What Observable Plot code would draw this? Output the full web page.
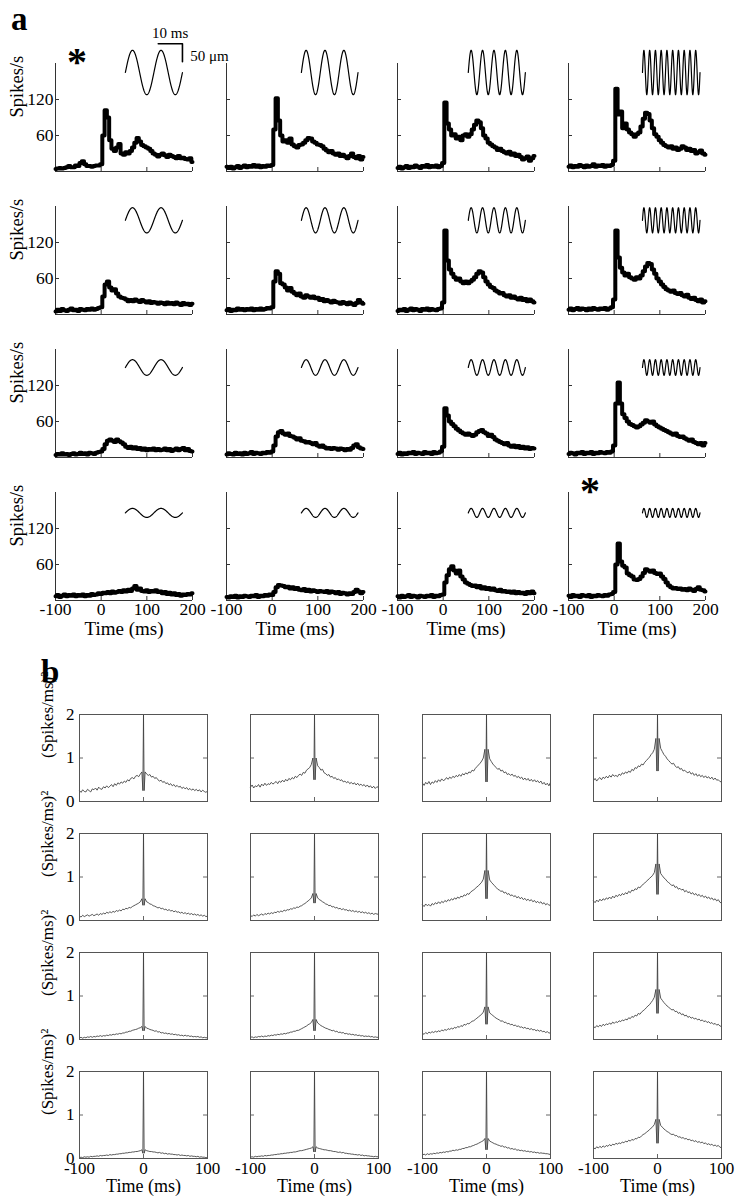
<!DOCTYPE html>
<html><head><meta charset="utf-8">
<script src="https://cdn.jsdelivr.net/npm/d3@7"></script>
<script src="https://cdn.jsdelivr.net/npm/@observablehq/plot@0.6"></script>
<style>
body{margin:0;background:#fff;}
#fig{position:relative;width:740px;height:1200px;overflow:hidden;background:#fff;}
#fig svg{position:absolute;}
</style></head><body><div id="fig"></div>
<script>
// ---------- DATA ----------
// Panel a: PSTH time bins (ms)
const psthTime = [-100,-95,-90,-85,-80,-75,-70,-65,-60,-55,-50,-45,-40,-35,-30,-25,-20,-15,-10,-5,0,5,10,15,20,25,30,35,40,45,50,55,60,65,70,75,80,85,90,95,100,105,110,115,120,125,130,135,140,145,150,155,160,165,170,175,180,185,190,195,200];
// firing rates (spikes/s), row = stimulus amplitude, column = stimulus frequency
const psthRow1 = [
 [4,5,6,5,6,7,9,7,7,10,9,14,17,12,9,9,8,9,10,10,12,60,102,90,52,38,34,40,46,30,28,32,30,34,40,48,56,50,44,42,40,38,34,30,28,25,28,30,27,24,28,26,24,22,26,22,23,21,20,22,16],
 [8,6,8,5,7,9,6,8,10,7,9,8,11,8,10,7,9,8,10,9,11,70,122,85,60,50,52,48,55,45,42,40,44,45,48,52,56,55,50,48,45,44,42,38,35,32,34,30,28,30,26,28,25,22,26,30,24,22,26,20,24],
 [6,8,5,7,9,6,8,7,10,8,6,9,8,11,7,9,8,10,7,9,14,115,80,70,60,62,55,58,52,60,62,58,62,70,78,85,82,72,60,55,48,45,42,40,36,38,34,32,30,33,28,30,26,28,24,20,22,25,18,22,26],
 [8,10,7,9,8,11,9,7,10,8,9,12,8,10,9,11,8,10,9,11,18,138,95,100,72,80,70,65,62,58,62,65,75,88,98,96,85,72,62,58,52,48,44,42,40,42,38,40,36,38,42,40,36,38,34,36,30,32,35,30,28]
];
const psthRow2 = [
 [5,8,6,9,7,6,8,10,7,8,6,9,8,7,9,8,10,8,9,11,12,30,50,55,45,40,42,35,30,28,27,25,22,24,22,25,23,21,24,22,20,22,19,21,20,18,20,19,17,20,18,19,17,20,18,16,19,17,18,16,18],
 [7,9,6,8,7,10,8,9,7,9,8,10,7,9,8,10,8,9,11,10,12,55,72,68,52,50,45,40,44,38,35,32,35,30,28,32,30,28,30,27,28,24,26,22,24,22,20,23,21,20,18,21,19,17,20,18,16,19,24,20,18],
 [6,8,7,9,6,8,10,7,9,8,6,9,8,10,7,9,8,7,9,10,20,140,90,75,68,62,58,60,55,52,55,52,55,58,62,68,72,70,62,55,50,46,44,40,38,35,36,32,30,32,28,30,27,25,28,24,26,22,25,22,20],
 [8,10,7,9,11,8,10,9,7,10,8,11,9,8,10,9,11,8,10,12,25,140,95,78,70,65,68,62,60,58,62,60,65,72,80,86,84,75,68,60,55,50,46,42,40,38,40,36,34,36,32,30,33,28,26,28,24,22,25,20,22]
];
const psthRow3 = [
 [4,6,5,7,5,6,4,6,7,5,6,8,6,7,5,8,7,6,8,9,10,14,22,28,30,28,26,30,27,25,22,18,16,18,15,17,14,16,13,15,12,14,13,15,12,14,12,13,15,12,14,11,13,15,12,14,16,12,14,11,10],
 [5,7,6,5,8,6,7,5,8,6,7,9,6,8,7,6,8,7,9,8,10,20,35,42,44,40,38,40,36,35,33,30,32,28,27,25,26,24,22,24,20,18,20,17,15,16,14,16,15,13,15,14,12,14,13,16,20,22,17,15,14],
 [6,8,5,7,6,8,7,9,6,8,7,6,9,7,8,6,9,7,8,10,18,82,70,60,56,52,48,45,42,40,38,40,38,36,38,42,44,46,42,40,36,38,34,30,28,26,24,22,24,20,18,20,17,19,16,18,15,17,14,16,15],
 [6,8,7,5,8,7,9,6,8,7,9,6,8,7,9,8,7,9,8,10,20,90,125,90,72,66,60,56,54,52,50,52,55,58,62,60,58,60,55,52,50,48,46,44,42,40,38,40,36,34,35,32,30,28,30,26,24,22,24,20,24]
];
const psthRow4 = [
 [7,9,6,8,10,7,9,8,10,7,9,8,10,7,9,8,11,9,10,12,11,13,12,14,12,15,13,14,16,14,17,15,18,16,20,24,18,20,16,15,17,14,16,15,17,14,15,12,14,11,13,10,12,9,11,8,10,9,11,10,12],
 [6,5,7,6,8,5,7,6,8,7,6,8,7,9,6,8,7,9,8,10,9,14,22,26,25,24,22,23,20,22,19,21,18,17,19,16,18,15,17,16,14,16,15,14,16,13,15,14,12,14,11,13,12,10,12,11,14,18,15,12,14],
 [7,5,8,6,7,9,6,8,7,5,8,7,6,8,7,9,6,8,7,9,10,30,42,52,57,50,45,50,40,35,30,28,26,24,25,22,24,20,22,19,21,18,20,17,16,18,15,16,14,15,13,15,12,14,12,13,11,14,12,15,12],
 [8,6,9,7,8,6,9,8,7,9,6,8,7,9,8,7,9,8,10,11,14,60,95,65,58,55,45,42,40,35,34,36,40,46,52,50,48,50,46,44,45,40,36,30,25,22,20,21,19,20,18,19,17,20,18,16,19,22,18,17,15]
];
const psthRows = [psthRow1, psthRow2, psthRow3, psthRow4];
const psthXTicks = [-100, 0, 100, 200];
const psthYTicks = [60, 120];
// stimulus glyphs: cycles per column, centre/amplitude per row (panel y units)
const stimCycles = [2, 3, 5, 10];
const stimStart = [53, 64, 55, 62];
const stimEnd = [178, 188, 180, 188];
const stimMid = [165, 157, 150, 146];
const stimAmp = [37, 21, 13, 7.5];
const asteriskPanels = [[0, 0], [3, 3]];

// Panel b: autocorrelogram lags (ms): 2.5 ms bins, plus -1, 0, +1 around zero lag
const acgTime = [...d3.range(-100, 0, 2.5), -1, 0, 1, ...d3.range(2.5, 100.01, 2.5)];
const acgRow1 = [
 [0.25,0.21,0.27,0.23,0.22,0.28,0.25,0.22,0.29,0.27,0.31,0.26,0.33,0.29,0.28,0.34,0.31,0.36,0.32,0.35,0.39,0.34,0.41,0.37,0.43,0.4,0.45,0.42,0.47,0.44,0.5,0.47,0.53,0.55,0.52,0.58,0.6,0.57,0.63,0.68,
  0.25,2,0.25,
  0.68,0.63,0.6,0.62,0.56,0.58,0.53,0.55,0.5,0.47,0.49,0.44,0.46,0.41,0.43,0.38,0.41,0.36,0.39,0.34,0.37,0.33,0.35,0.3,0.33,0.29,0.32,0.27,0.3,0.26,0.29,0.25,0.28,0.24,0.27,0.22,0.26,0.23,0.21,0.24],
 [0.33,0.38,0.31,0.36,0.34,0.39,0.33,0.4,0.36,0.42,0.37,0.41,0.39,0.44,0.4,0.43,0.46,0.41,0.47,0.44,0.49,0.45,0.51,0.47,0.53,0.5,0.55,0.52,0.58,0.55,0.6,0.63,0.6,0.67,0.65,0.72,0.75,0.78,0.85,1.0,
  0.5,2,0.5,
  1.0,0.82,0.78,0.72,0.74,0.66,0.64,0.6,0.62,0.56,0.58,0.53,0.55,0.5,0.52,0.48,0.5,0.45,0.47,0.43,0.46,0.41,0.44,0.4,0.43,0.38,0.42,0.37,0.4,0.36,0.39,0.34,0.38,0.33,0.36,0.31,0.35,0.3,0.34,0.32],
 [0.42,0.37,0.44,0.4,0.46,0.39,0.45,0.42,0.48,0.44,0.5,0.46,0.52,0.48,0.5,0.55,0.51,0.56,0.53,0.58,0.55,0.6,0.57,0.62,0.58,0.64,0.61,0.66,0.63,0.68,0.66,0.72,0.7,0.76,0.8,0.84,0.88,0.93,1.0,1.2,
  0.45,2,0.45,
  1.2,0.98,0.92,0.86,0.82,0.78,0.74,0.76,0.7,0.72,0.66,0.68,0.62,0.64,0.6,0.63,0.58,0.6,0.55,0.58,0.53,0.56,0.5,0.54,0.49,0.53,0.47,0.51,0.46,0.5,0.45,0.48,0.43,0.47,0.4,0.44,0.38,0.42,0.36,0.44],
 [0.48,0.53,0.47,0.52,0.55,0.5,0.56,0.53,0.58,0.54,0.6,0.56,0.62,0.58,0.6,0.57,0.63,0.6,0.66,0.63,0.68,0.65,0.7,0.67,0.74,0.71,0.78,0.76,0.82,0.8,0.86,0.84,0.9,0.94,0.98,1.02,1.08,1.12,1.2,1.45,
  0.7,2,0.7,
  1.45,1.22,1.15,1.08,1.04,0.98,0.94,0.9,0.86,0.88,0.82,0.78,0.8,0.74,0.76,0.7,0.72,0.68,0.66,0.69,0.63,0.66,0.6,0.64,0.58,0.62,0.57,0.6,0.55,0.59,0.54,0.57,0.52,0.56,0.5,0.54,0.49,0.5,0.46,0.45]
];
const acgRow2 = [
 [0.1,0.08,0.12,0.09,0.11,0.13,0.1,0.12,0.14,0.11,0.13,0.15,0.12,0.16,0.14,0.17,0.15,0.19,0.17,0.2,0.18,0.21,0.19,0.23,0.21,0.24,0.22,0.26,0.25,0.28,0.27,0.3,0.29,0.32,0.34,0.36,0.38,0.4,0.43,0.5,
  0.35,2,0.35,
  0.5,0.43,0.41,0.38,0.37,0.34,0.33,0.31,0.29,0.3,0.27,0.28,0.25,0.26,0.23,0.25,0.22,0.23,0.2,0.22,0.19,0.2,0.17,0.19,0.16,0.18,0.15,0.17,0.14,0.16,0.13,0.15,0.12,0.14,0.11,0.13,0.1,0.12,0.09,0.1],
 [0.12,0.09,0.13,0.1,0.14,0.11,0.13,0.15,0.12,0.16,0.14,0.17,0.15,0.18,0.16,0.19,0.18,0.21,0.19,0.22,0.2,0.24,0.22,0.25,0.24,0.27,0.26,0.29,0.28,0.31,0.3,0.33,0.34,0.37,0.39,0.42,0.45,0.48,0.52,0.62,
  0.4,2,0.4,
  0.62,0.52,0.48,0.46,0.43,0.41,0.38,0.37,0.34,0.35,0.31,0.32,0.29,0.3,0.27,0.28,0.25,0.27,0.24,0.25,0.22,0.24,0.21,0.23,0.2,0.22,0.19,0.21,0.18,0.2,0.17,0.19,0.16,0.18,0.15,0.17,0.14,0.16,0.15,0.14],
 [0.36,0.32,0.38,0.34,0.37,0.33,0.39,0.36,0.41,0.38,0.43,0.39,0.44,0.41,0.46,0.43,0.48,0.45,0.5,0.47,0.52,0.49,0.54,0.51,0.56,0.54,0.59,0.57,0.62,0.6,0.65,0.68,0.7,0.74,0.77,0.8,0.84,0.88,0.95,1.15,
  0.5,2,0.5,
  1.15,0.93,0.88,0.84,0.8,0.76,0.72,0.7,0.67,0.68,0.63,0.65,0.6,0.62,0.57,0.59,0.55,0.57,0.52,0.55,0.5,0.53,0.48,0.51,0.46,0.49,0.45,0.48,0.43,0.46,0.41,0.44,0.4,0.43,0.38,0.41,0.36,0.39,0.35,0.36],
 [0.45,0.41,0.47,0.43,0.49,0.45,0.5,0.47,0.52,0.49,0.54,0.5,0.56,0.52,0.58,0.55,0.6,0.57,0.62,0.59,0.64,0.61,0.67,0.64,0.7,0.68,0.73,0.71,0.77,0.75,0.8,0.83,0.86,0.9,0.93,0.97,1.0,1.04,1.1,1.3,
  0.6,2,0.6,
  1.3,1.08,1.03,0.98,0.95,0.9,0.87,0.84,0.8,0.82,0.76,0.78,0.72,0.74,0.7,0.72,0.66,0.69,0.64,0.66,0.61,0.64,0.59,0.62,0.57,0.6,0.55,0.58,0.53,0.56,0.51,0.54,0.49,0.52,0.47,0.5,0.45,0.48,0.42,0.4]
];
const acgRow3 = [
 [0.04,0.05,0.03,0.05,0.04,0.06,0.05,0.07,0.05,0.07,0.06,0.08,0.07,0.09,0.07,0.09,0.08,0.1,0.09,0.11,0.1,0.12,0.11,0.13,0.12,0.14,0.13,0.15,0.15,0.17,0.17,0.19,0.19,0.21,0.22,0.23,0.24,0.26,0.27,0.3,
  0.2,2,0.2,
  0.3,0.26,0.25,0.23,0.22,0.21,0.19,0.2,0.17,0.18,0.15,0.16,0.14,0.15,0.13,0.14,0.12,0.13,0.11,0.12,0.1,0.11,0.09,0.1,0.08,0.1,0.08,0.09,0.07,0.08,0.06,0.07,0.06,0.07,0.05,0.06,0.04,0.05,0.04,0.04],
 [0.05,0.06,0.04,0.06,0.05,0.07,0.06,0.08,0.06,0.08,0.07,0.09,0.08,0.1,0.09,0.11,0.1,0.12,0.11,0.13,0.12,0.14,0.13,0.15,0.15,0.17,0.17,0.19,0.19,0.21,0.21,0.23,0.25,0.27,0.29,0.31,0.34,0.36,0.39,0.46,
  0.2,2,0.2,
  0.46,0.38,0.35,0.32,0.3,0.28,0.26,0.25,0.23,0.22,0.2,0.21,0.18,0.19,0.16,0.17,0.15,0.16,0.13,0.14,0.12,0.13,0.11,0.12,0.1,0.11,0.09,0.1,0.08,0.09,0.07,0.08,0.07,0.08,0.06,0.07,0.05,0.06,0.05,0.05],
 [0.14,0.12,0.16,0.13,0.17,0.15,0.18,0.16,0.19,0.17,0.2,0.18,0.22,0.2,0.23,0.21,0.25,0.23,0.26,0.24,0.28,0.26,0.3,0.28,0.32,0.3,0.35,0.33,0.37,0.36,0.39,0.42,0.43,0.46,0.49,0.52,0.55,0.58,0.63,0.75,
  0.35,2,0.35,
  0.75,0.61,0.58,0.55,0.52,0.49,0.47,0.45,0.42,0.43,0.39,0.4,0.36,0.37,0.34,0.35,0.32,0.33,0.3,0.31,0.28,0.29,0.26,0.28,0.25,0.26,0.23,0.25,0.22,0.23,0.2,0.22,0.19,0.21,0.18,0.19,0.16,0.18,0.15,0.15],
 [0.3,0.27,0.32,0.29,0.33,0.3,0.35,0.32,0.36,0.34,0.38,0.35,0.4,0.37,0.41,0.39,0.43,0.41,0.45,0.43,0.47,0.45,0.5,0.48,0.53,0.51,0.56,0.54,0.6,0.58,0.63,0.66,0.69,0.73,0.77,0.8,0.85,0.9,0.97,1.15,
  0.6,2,0.6,
  1.15,0.95,0.9,0.85,0.81,0.77,0.74,0.71,0.68,0.69,0.64,0.65,0.6,0.62,0.57,0.59,0.54,0.56,0.51,0.53,0.49,0.51,0.47,0.49,0.45,0.47,0.43,0.45,0.41,0.43,0.39,0.41,0.37,0.39,0.35,0.37,0.33,0.35,0.31,0.3]
];
const acgRow4 = [
 [0.02,0.03,0.02,0.04,0.03,0.04,0.03,0.05,0.04,0.05,0.05,0.06,0.05,0.07,0.06,0.07,0.07,0.08,0.07,0.09,0.08,0.09,0.09,0.1,0.1,0.11,0.11,0.12,0.12,0.13,0.13,0.14,0.14,0.15,0.15,0.16,0.16,0.17,0.18,0.2,
  0.12,2,0.12,
  0.2,0.18,0.17,0.16,0.16,0.15,0.15,0.14,0.13,0.14,0.12,0.13,0.11,0.12,0.1,0.11,0.1,0.1,0.09,0.09,0.08,0.09,0.07,0.08,0.07,0.07,0.06,0.07,0.05,0.06,0.05,0.05,0.04,0.05,0.03,0.04,0.03,0.03,0.02,0.02],
 [0.03,0.04,0.03,0.05,0.04,0.05,0.05,0.06,0.05,0.07,0.06,0.07,0.07,0.08,0.08,0.09,0.09,0.1,0.1,0.11,0.11,0.12,0.12,0.13,0.13,0.14,0.14,0.15,0.15,0.16,0.17,0.18,0.18,0.19,0.2,0.21,0.22,0.23,0.24,0.27,
  0.15,2,0.15,
  0.27,0.24,0.23,0.22,0.21,0.2,0.2,0.19,0.18,0.18,0.17,0.16,0.16,0.15,0.14,0.15,0.13,0.14,0.12,0.12,0.11,0.11,0.1,0.1,0.09,0.09,0.08,0.09,0.07,0.08,0.06,0.07,0.06,0.06,0.05,0.05,0.04,0.05,0.04,0.04],
 [0.08,0.1,0.08,0.11,0.09,0.11,0.1,0.12,0.11,0.13,0.12,0.14,0.13,0.15,0.14,0.16,0.15,0.17,0.17,0.19,0.18,0.2,0.19,0.21,0.21,0.23,0.23,0.25,0.25,0.27,0.27,0.29,0.3,0.32,0.33,0.35,0.37,0.39,0.41,0.46,
  0.2,2,0.2,
  0.46,0.4,0.38,0.36,0.34,0.33,0.31,0.3,0.28,0.29,0.26,0.27,0.24,0.25,0.22,0.23,0.21,0.22,0.19,0.2,0.18,0.19,0.17,0.18,0.16,0.17,0.15,0.16,0.14,0.15,0.13,0.14,0.12,0.13,0.12,0.12,0.11,0.11,0.1,0.09],
 [0.25,0.22,0.27,0.24,0.28,0.25,0.29,0.26,0.3,0.28,0.32,0.29,0.33,0.31,0.35,0.33,0.36,0.34,0.38,0.36,0.4,0.38,0.42,0.4,0.44,0.42,0.46,0.45,0.49,0.48,0.52,0.55,0.57,0.6,0.63,0.66,0.7,0.73,0.78,0.9,
  0.35,2,0.35,
  0.9,0.76,0.72,0.68,0.65,0.62,0.6,0.57,0.55,0.56,0.52,0.53,0.49,0.5,0.47,0.48,0.45,0.46,0.43,0.44,0.41,0.42,0.39,0.41,0.37,0.39,0.36,0.38,0.34,0.36,0.32,0.34,0.31,0.33,0.29,0.31,0.28,0.3,0.26,0.25]
];
const acgRows = [acgRow1, acgRow2, acgRow3, acgRow4];
const acgXTicks = [-100, 0, 100];
const acgYTicks = [0, 1, 2];

// ---------- LAYOUT ----------
const FONT = "'Liberation Serif','Times New Roman',Times,serif";
const fig = document.getElementById("fig");
const AXC = "#333";
const A = {colX:[55,226,397,568], rowBottom:[171,314,457,600], w:137, h:108, ml:50, mr:28, mt:62, mb:50};
const B = {colX:[79,250,422,593], rowTop:[714,833,952,1071], w:128, h:87, ml:60, mr:20, mt:10, mb:45};
const baseStyle = {background:"transparent", fontFamily:FONT, fontSize:"17px", overflow:"visible", maxWidth:"none", color:"#000"};

function place(svg, left, top) {
  svg.style.position = "absolute";
  svg.style.left = left + "px";
  svg.style.top = top + "px";
  fig.appendChild(svg);
}

// ---------- PANEL a ----------
for (let r = 0; r < 4; r++) {
  for (let c = 0; c < 4; c++) {
    const vals = psthRows[r][c];
    const data = psthTime.map((t, i) => ({t, v: vals[i]}));
    const n = 240;
    const wave = d3.range(n + 1).map(i => {
      const f = i / n;
      return {t: stimStart[c] + f * (stimEnd[c] - stimStart[c]), v: stimMid[r] + stimAmp[r] * Math.sin(2 * Math.PI * stimCycles[c] * f)};
    });
    const marks = [
      Plot.ruleX([psthXTicks[0]], {stroke: AXC, strokeWidth: 1}),
      Plot.ruleY([0], {stroke: AXC, strokeWidth: 1}),
      Plot.ruleY(psthYTicks, {y: d => d, stroke: AXC, insetRight: A.w - 4}),
      Plot.ruleX(psthXTicks, {x: d => d, stroke: AXC, insetTop: A.h - 4}),
      Plot.line(wave, {x: "t", y: "v", stroke: "#000", strokeWidth: 1.2}),
      Plot.line(data, {x: "t", y: "v", stroke: "#000", strokeWidth: 4, curve: "step", strokeLinejoin: "round"})
    ];
    if (c === 0) {
      marks.push(Plot.text(psthYTicks, {y: d => d, text: d => String(d), frameAnchor: "left", textAnchor: "end", dx: -2, fontSize: 17.5}));
      marks.push(Plot.text(["Spikes/s"], {text: d => d, frameAnchor: "left", rotate: -90, dx: -38, fontSize: 18.5}));
    }
    if (r === 3) {
      marks.push(Plot.text(psthXTicks, {x: d => d, text: d => String(d), frameAnchor: "bottom", lineAnchor: "top", dy: 2, fontSize: 17.5}));
      marks.push(Plot.text(["Time (ms)"], {text: d => d, frameAnchor: "bottom", lineAnchor: "top", dy: 21, fontSize: 19}));
    }
    if (r === 0 && c === 0) {
      marks.push(Plot.line([{t:125, v:213}, {t:178, v:213}, {t:178, v:183}], {x: "t", y: "v", stroke: "#000", strokeWidth: 1.6}));
      marks.push(Plot.text([{t:151, v:230}], {x: "t", y: "v", text: () => "10 ms", fontSize: 15}));
      marks.push(Plot.text([{t:195, v:193}], {x: "t", y: "v", text: () => "50 μm", textAnchor: "start", fontSize: 15}));
    }
    if (asteriskPanels.some(([ar, ac]) => ar === r && ac === c)) {
      marks.push(Plot.text([{t:-53, v:188}], {x: "t", y: "v", text: () => "*", fontSize: 40, fontWeight: "bold", dy: 3}));
    }
    const svg = Plot.plot({
      width: A.ml + A.w + A.mr, height: A.mt + A.h + A.mb,
      marginLeft: A.ml, marginRight: A.mr, marginTop: A.mt, marginBottom: A.mb,
      x: {domain: [-100, 200], axis: null},
      y: {domain: [0, 180], axis: null},
      style: baseStyle,
      marks
    });
    place(svg, A.colX[c] - A.ml, A.rowBottom[r] - A.h - A.mt);
  }
}

// ---------- PANEL b ----------
for (let r = 0; r < 4; r++) {
  for (let c = 0; c < 4; c++) {
    const vals = acgRows[r][c];
    const data = acgTime.map((t, i) => ({t, v: vals[i]}));
    const marks = [
      Plot.ruleY([1], {y: d => d, stroke: "#666", insetRight: B.w - 4}),
      Plot.ruleY([1], {y: d => d, stroke: "#666", insetLeft: B.w - 4}),
      Plot.ruleX([0], {x: d => d, stroke: "#666", insetTop: B.h - 4}),
      Plot.line(data, {x: "t", y: "v", stroke: "#3a3a3a", strokeWidth: 0.85}),
      Plot.frame({stroke: "#555", strokeWidth: 1})
    ];
    if (c === 0) {
      marks.push(Plot.text(acgYTicks, {y: d => d, text: d => String(d), frameAnchor: "left", textAnchor: "end", dx: -5, fontSize: 17}));
      marks.push(Plot.text(["(Spikes/ms)²"], {text: d => d, frameAnchor: "left", rotate: -90, dx: -32, fontSize: 17}));
    }
    if (r === 3) {
      marks.push(Plot.text(acgXTicks, {x: d => d, text: d => String(d), frameAnchor: "bottom", lineAnchor: "top", dy: 3, fontSize: 17}));
      marks.push(Plot.text(["Time (ms)"], {text: d => d, frameAnchor: "bottom", lineAnchor: "top", dy: 21, fontSize: 18}));
    }
    const svg = Plot.plot({
      width: B.ml + B.w + B.mr, height: B.mt + B.h + B.mb,
      marginLeft: B.ml, marginRight: B.mr, marginTop: B.mt, marginBottom: B.mb,
      x: {domain: [-100, 100], axis: null},
      y: {domain: [0, 2], axis: null},
      style: baseStyle,
      marks
    });
    place(svg, B.colX[c] - B.ml, B.rowTop[r] - B.mt);
  }
}

// ---------- panel letters ----------
const letters = [{s: "a", x: 11, y: 30}, {s: "b", x: 41, y: 683}];
const ov = d3.create("svg").attr("width", 740).attr("height", 1200).style("left", "0px").style("top", "0px").style("pointer-events", "none");
ov.selectAll("text").data(letters).join("text")
  .attr("x", d => d.x).attr("y", d => d.y)
  .attr("font-family", FONT).attr("font-weight", "bold").attr("font-size", 33)
  .text(d => d.s);
fig.appendChild(ov.node());
</script></body></html>
